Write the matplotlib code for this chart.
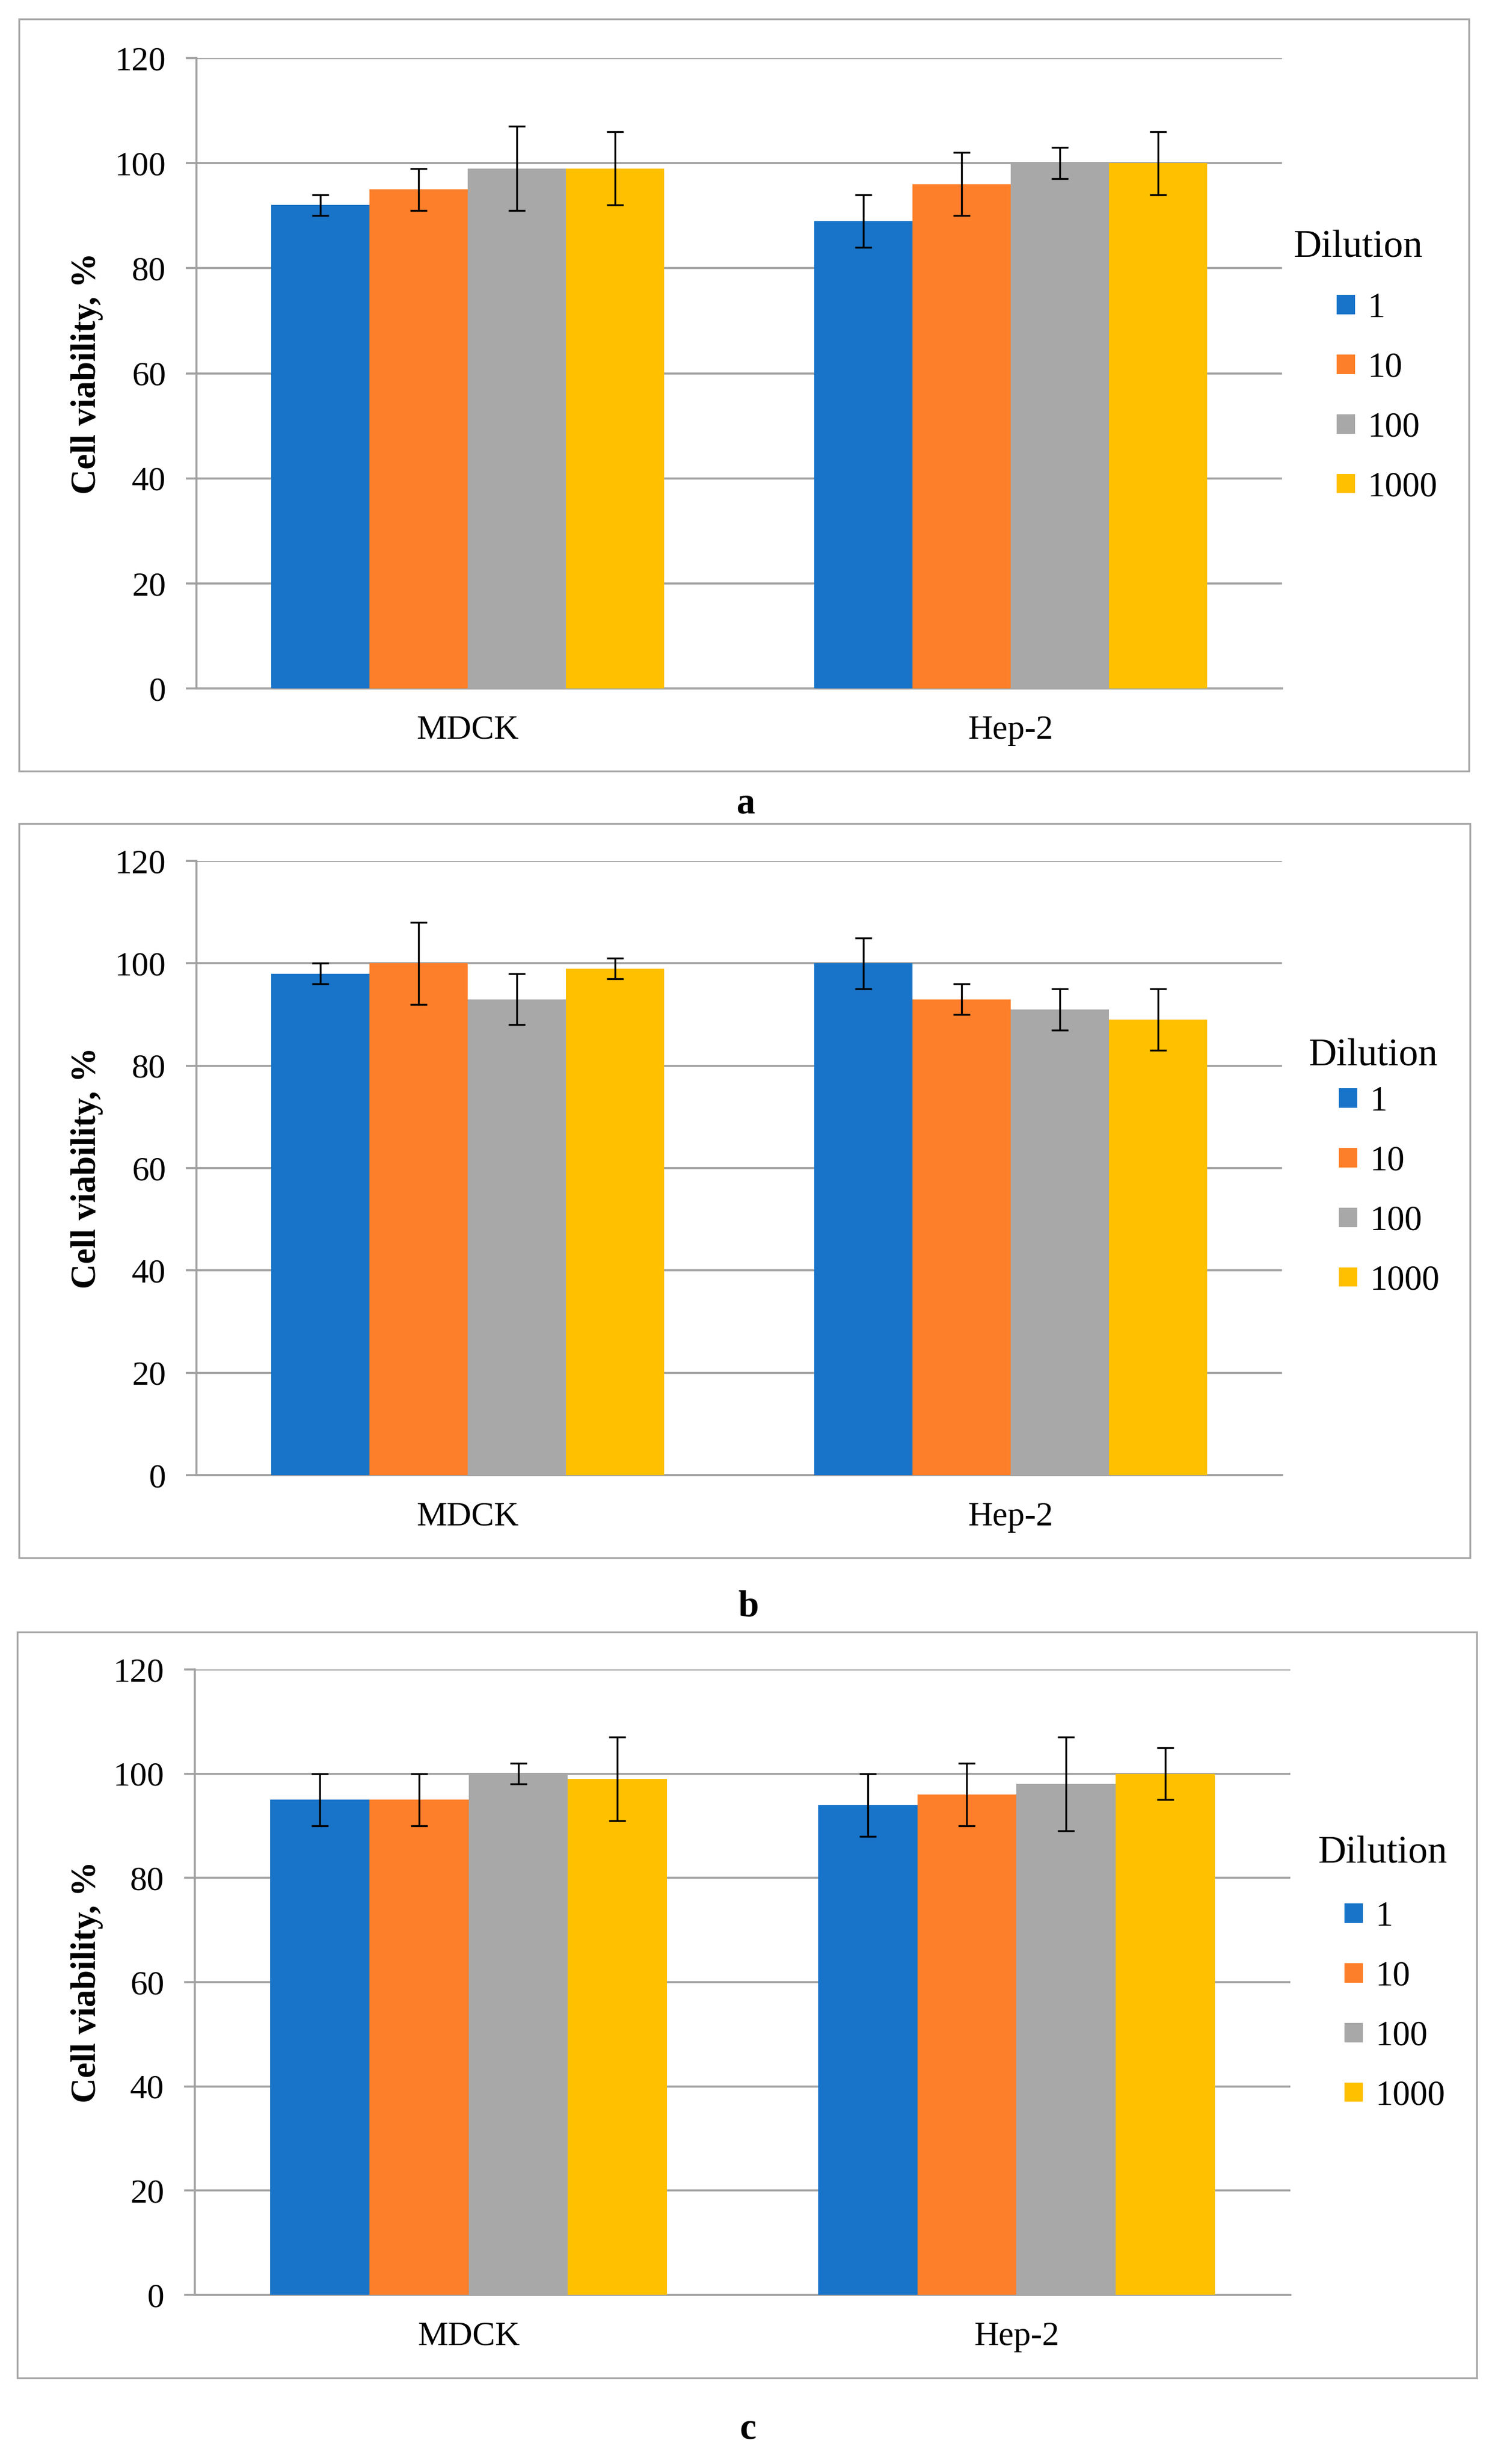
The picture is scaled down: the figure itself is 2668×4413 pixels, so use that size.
import matplotlib
matplotlib.use("Agg")
import matplotlib.pyplot as plt
from matplotlib.patches import Rectangle
import numpy as np

plt.rcParams['font.family'] = ['Liberation Serif', 'DejaVu Serif']

categories = ["MDCK", "Hep-2"]
dilutions = ["1", "10", "100", "1000"]
colors = ["#1874C8", "#FE7F29", "#A8A8A8", "#FFC000"]

# values[panel][dilution] -> [MDCK, Hep-2]
vals_a = [[92, 89], [95, 96], [99, 100], [99, 100]]
err_a = [[2, 5], [4, 6], [8, 3], [7, 6]]
vals_b = [[98, 100], [100, 93], [93, 91], [99, 89]]
err_b = [[2, 5], [8, 3], [5, 4], [2, 6]]
vals_c = [[95, 94], [95, 96], [100, 98], [99, 100]]
err_c = [[5, 6], [5, 6], [2, 9], [8, 5]]
panel_letters = ["a", "b", "c"]
yticks = [0, 20, 40, 60, 80, 100, 120]

W, H = 2668, 4413
fig = plt.figure(figsize=(W / 100, H / 100), dpi=100)
fig.patch.set_facecolor("white")

GRID = "#A0A0A0"

# layout in pixel coords (left, right, top, bottom) for axes
axes_px = [(352, 2297, 104, 1233), (352, 2297, 1542, 2642), (349, 2312, 2990, 4110)]
frames_px = [(34, 2632, 34, 1381), (34, 2634, 1475, 2790), (31, 2646, 2923, 4259)]
letter_px = [(1337, 1440), (1341, 2878), (1341, 4351)]
title_px = [(2318, 444), (2345, 1892), (2362, 3320)]
legend_px = [(2395, 524), (2399, 1945), (2409, 3405)]

panels = [(vals_a, err_a), (vals_b, err_b), (vals_c, err_c)]

def fx(x):
    return x / W

def fy(y):
    return 1 - y / H

bw = 0.181
x = np.arange(len(categories))

for p, (vals, errs) in enumerate(panels):
    l, r, t, b = axes_px[p]
    ax = fig.add_axes([fx(l), fy(b), fx(r) - fx(l), fy(t) - fy(b)])
    handles = []
    for i in range(4):
        bars = ax.bar(x + (i - 1.5) * bw, vals[i], width=bw, color=colors[i],
                      yerr=errs[i], capsize=10.5, zorder=3, label=dilutions[i],
                      error_kw=dict(elinewidth=2.4, capthick=2.4, ecolor="black", zorder=4))
        handles.append(bars)
    ax.set_xlim(-0.5, 1.5)
    ax.set_ylim(0, 120)
    ax.set_yticks(yticks)
    ax.set_yticklabels([str(v) for v in yticks])
    ax.set_xticks(x)
    ax.set_xticklabels(categories)
    ax.yaxis.grid(True, color=GRID, linewidth=2.6, zorder=0)
    ax.set_axisbelow(True)
    for s in ["top", "right"]:
        ax.spines[s].set_visible(False)
    ax.spines["left"].set_color(GRID)
    ax.spines["left"].set_linewidth(2.6)
    ax.spines["bottom"].set_color(GRID)
    ax.spines["bottom"].set_linewidth(2.8)
    ax.tick_params(axis="y", length=13.5, width=2.6, color=GRID, pad=26, labelsize=44)
    ax.tick_params(axis="x", length=0, pad=34, labelsize=44)
    ax.set_ylabel("Cell viability, %", fontsize=45, fontweight="bold")
    ax.yaxis.set_label_coords((156 - l) / (r - l), 0.5)
    ax.yaxis.label.set_verticalalignment("center")

    lx, ly = legend_px[p]
    ax.legend(handles, dilutions, loc="upper left",
              bbox_to_anchor=(fx(lx), fy(ly)), bbox_transform=fig.transFigure,
              frameon=False, fontsize=45, handlelength=0.53, handleheight=0.48,
              handletextpad=0.35, labelspacing=0.78, borderpad=0, borderaxespad=0)
    tx, ty = title_px[p]
    fig.text(fx(tx), fy(ty), "Dilution", ha="left", va="center", fontsize=50)

    fl, fr, ft, fb = frames_px[p]
    fig.patches.append(Rectangle((fx(fl), fy(fb)), fx(fr) - fx(fl), fy(ft) - fy(fb),
                                 transform=fig.transFigure, fill=False,
                                 edgecolor="#A6A6A6", linewidth=2.4, zorder=0))
    lpx, lpy = letter_px[p]
    fig.text(fx(lpx), fy(lpy), panel_letters[p], ha="center", va="center",
             fontsize=48, fontweight="bold")

fig.savefig("out.png", dpi=100, facecolor="white")
